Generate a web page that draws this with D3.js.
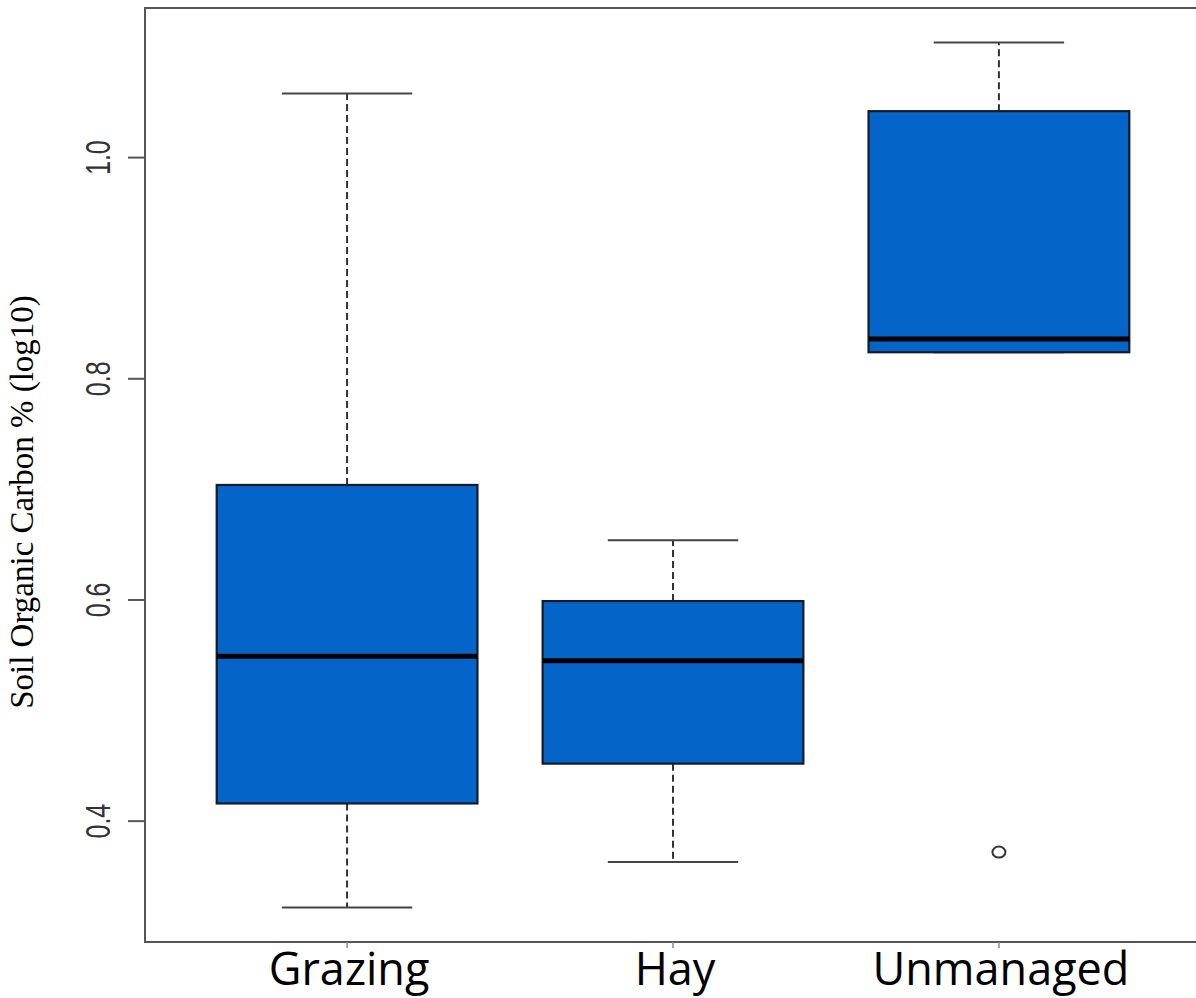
<!DOCTYPE html>
<html>
<head>
<meta charset="utf-8">
<script src="https://cdn.jsdelivr.net/npm/d3@7"></script>
<style>
  html, body { margin: 0; padding: 0; background: #fff; overflow: hidden; }
  svg { display: block; }
</style>
</head>
<body>
<svg id="chart" width="1196" height="998"></svg>
<script>
// Soil organic carbon (log10 %) by land management: box summaries
const categories = ["Grazing", "Hay", "Unmanaged"];
const whiskerLow  = [0.322, 0.363, 0.824];
const q1          = [0.416, 0.452, 0.824];
const median      = [0.549, 0.545, 0.836];
const q3          = [0.704, 0.599, 1.042];
const whiskerHigh = [1.058, 0.654, 1.104];
const outliers    = [[], [], [0.372]];
const yTicks      = [0.4, 0.6, 0.8, 1.0];
const yTitle      = "Soil Organic Carbon % (log10)";

const boxes = categories.map((c, i) => ({
  name: c, pos: i + 1,
  lo: whiskerLow[i], q1: q1[i], med: median[i], q3: q3[i], hi: whiskerHigh[i],
  out: outliers[i]
}));

const svg = d3.select("#chart");
const plot = { left: 145, right: 1201, top: 8, bottom: 942 };

// y range padded by 4% on each side of the data extent
const allVals = boxes.flatMap(b => [b.lo, b.hi, ...b.out]);
const yMin = d3.min(allVals), yMax = d3.max(allVals);
const pad = (yMax - yMin) * 0.04;
const y = d3.scaleLinear().domain([yMin - pad, yMax + pad]).range([plot.bottom, plot.top]);

// x positions 1..n over [0.5, n+0.5] padded by 4%
const n = categories.length;
const xPad = n * 0.04;
const x = d3.scaleLinear().domain([0.5 - xPad, n + 0.5 + xPad]).range([plot.left, plot.right]);

const boxHalf = 0.4, capHalf = 0.2;
const fill = "#0564c8";

const g = svg.append("g");

// whiskers (dashed)
g.selectAll("line.whisk-lo").data(boxes.filter(b => b.lo < b.q1)).join("line")
  .attr("x1", d => x(d.pos)).attr("x2", d => x(d.pos))
  .attr("y1", d => y(d.q1)).attr("y2", d => y(d.lo))
  .attr("stroke", "#333").attr("stroke-width", 2).attr("stroke-dasharray", "7,4");
g.selectAll("line.whisk-hi").data(boxes).join("line")
  .attr("x1", d => x(d.pos)).attr("x2", d => x(d.pos))
  .attr("y1", d => y(d.q3)).attr("y2", d => y(d.hi))
  .attr("stroke", "#333").attr("stroke-width", 2).attr("stroke-dasharray", "7,4");

// caps
const caps = boxes.flatMap(b => [{ pos: b.pos, v: b.lo }, { pos: b.pos, v: b.hi }]);
g.selectAll("line.cap").data(caps).join("line")
  .attr("x1", d => x(d.pos - capHalf)).attr("x2", d => x(d.pos + capHalf))
  .attr("y1", d => y(d.v)).attr("y2", d => y(d.v))
  .attr("stroke", "#444").attr("stroke-width", 2);

// boxes
g.selectAll("rect.box").data(boxes).join("rect")
  .attr("x", d => x(d.pos - boxHalf))
  .attr("width", d => x(d.pos + boxHalf) - x(d.pos - boxHalf))
  .attr("y", d => y(d.q3))
  .attr("height", d => y(d.q1) - y(d.q3))
  .attr("fill", fill).attr("stroke", "#141c2c").attr("stroke-width", 2.2);

// medians
g.selectAll("line.med").data(boxes).join("line")
  .attr("x1", d => x(d.pos - boxHalf)).attr("x2", d => x(d.pos + boxHalf))
  .attr("y1", d => y(d.med)).attr("y2", d => y(d.med))
  .attr("stroke", "#000").attr("stroke-width", 5);

// outliers
const outs = boxes.flatMap(b => b.out.map(v => ({ pos: b.pos, v })));
g.selectAll("ellipse.out").data(outs).join("ellipse")
  .attr("cx", d => x(d.pos)).attr("cy", d => y(d.v))
  .attr("rx", 6.5).attr("ry", 5.5)
  .attr("fill", "none").attr("stroke", "#333").attr("stroke-width", 2);

// frame
svg.append("rect")
  .attr("x", plot.left).attr("y", plot.top)
  .attr("width", plot.right - plot.left).attr("height", plot.bottom - plot.top)
  .attr("fill", "none").attr("stroke", "#555").attr("stroke-width", 2);

// y axis ticks and rotated labels
const yAxis = svg.append("g");
yAxis.selectAll("line").data(yTicks).join("line")
  .attr("x1", plot.left - 17).attr("x2", plot.left)
  .attr("y1", d => y(d)).attr("y2", d => y(d))
  .attr("stroke", "#555").attr("stroke-width", 2);
yAxis.selectAll("text").data(yTicks).join("text")
  .attr("transform", d => `translate(110,${y(d)}) rotate(-90) scale(1,1.38)`)
  .attr("text-anchor", "middle")
  .attr("font-family", "Liberation Sans, Arial, sans-serif")
  .attr("font-size", 25)
  .attr("fill", "#333")
  .text(d => d3.format(".1f")(d));

// x axis ticks and category labels
const xAxis = svg.append("g");
xAxis.selectAll("line").data(boxes).join("line")
  .attr("x1", d => x(d.pos)).attr("x2", d => x(d.pos))
  .attr("y1", plot.bottom).attr("y2", plot.bottom + 6)
  .attr("stroke", "#888").attr("stroke-width", 1.5);
xAxis.selectAll("text").data(boxes).join("text")
  .attr("x", d => x(d.pos) + 2).attr("y", 985)
  .attr("text-anchor", "middle")
  .attr("font-family", "Open Sans, sans-serif")
  .attr("font-size", 45)
  .attr("fill", "#000")
  .text(d => d.name);

// y axis title
svg.append("text")
  .attr("transform", `translate(33,502) rotate(-90)`)
  .attr("text-anchor", "middle")
  .attr("font-family", "Liberation Serif, Times New Roman, serif")
  .attr("font-size", 33)
  .attr("fill", "#000")
  .text(yTitle);
</script>
</body>
</html>
